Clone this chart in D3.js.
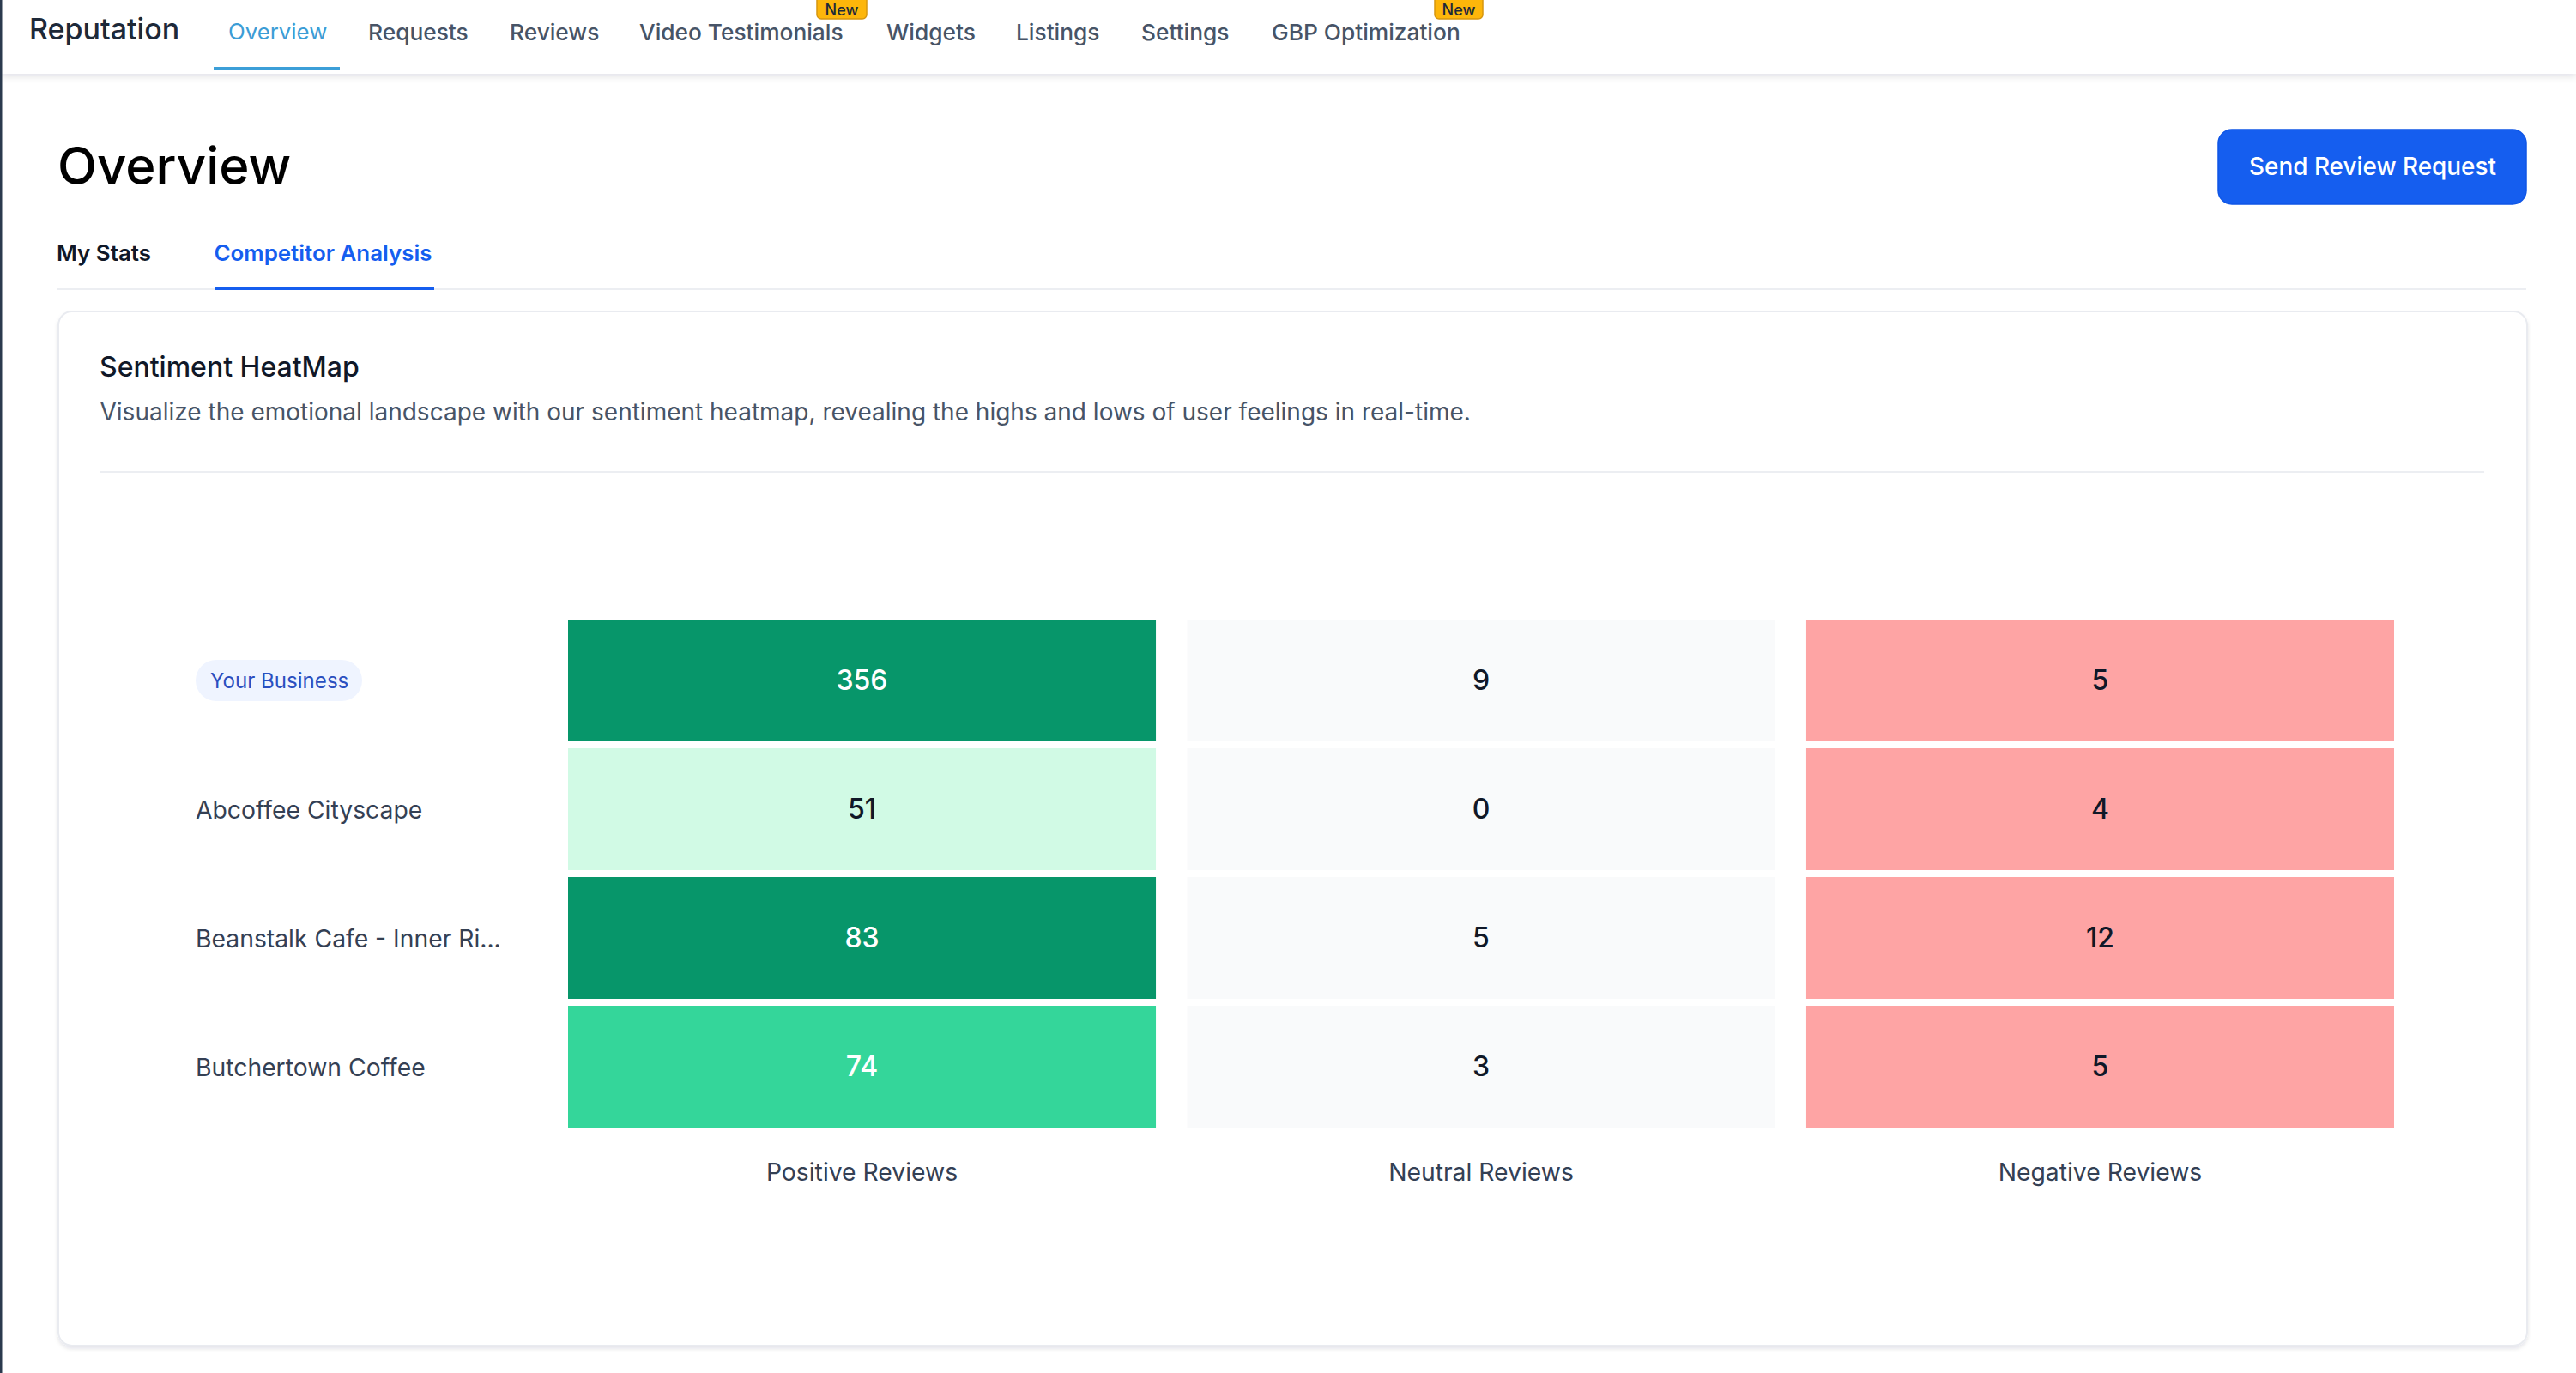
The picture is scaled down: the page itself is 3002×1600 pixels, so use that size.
<!DOCTYPE html>
<html>
<head>
<meta charset="utf-8">
<script src="https://cdn.jsdelivr.net/npm/d3@7/dist/d3.min.js"></script>
<style>
html,body{margin:0;padding:0;background:#fff;overflow:hidden}
svg{display:block;font-family:Inter,"Noto Sans",sans-serif}
</style>
</head>
<body>
<svg id="c" width="3002" height="1600"></svg>
<script>
const navLabels = ["Overview","Requests","Reviews","Video Testimonials","Widgets","Listings","Settings","GBP Optimization"];
const tabLabels = ["My Stats","Competitor Analysis"];
const businesses = ["Your Business","Abcoffee Cityscape","Beanstalk Cafe - Inner Ri...","Butchertown Coffee"];
const reviewTypes = ["Positive Reviews","Neutral Reviews","Negative Reviews"];
const positiveReviews = [356,51,83,74];
const neutralReviews = [9,0,5,3];
const negativeReviews = [5,4,12,5];

const seriesByType = {"Positive Reviews":positiveReviews,"Neutral Reviews":neutralReviews,"Negative Reviews":negativeReviews};
const cells = reviewTypes.flatMap(t => businesses.map((b,i)=>({type:t,business:b,value:seriesByType[t][i]})));

const svg = d3.select("#c");
const defs = svg.append("defs");
const sh = defs.append("filter").attr("id","hs").attr("x","-2%").attr("y","-50%").attr("width","104%").attr("height","200%");
sh.append("feDropShadow").attr("dx",0).attr("dy",3).attr("stdDeviation",4).attr("flood-color","#101828").attr("flood-opacity",0.12);
const cs = defs.append("filter").attr("id","cs").attr("x","-2%").attr("y","-2%").attr("width","104%").attr("height","104%");
cs.append("feDropShadow").attr("dx",0).attr("dy",3).attr("stdDeviation",2).attr("flood-color","#101828").attr("flood-opacity",0.10);

function txt(s,x,y,size,weight,fill,anchor){
  return svg.append("text").text(s).attr("x",x).attr("y",y).attr("font-size",size)
    .attr("font-weight",weight).attr("fill",fill).attr("text-anchor",anchor||"start");
}

// page chrome
svg.append("rect").attr("width",3002).attr("height",1600).attr("fill","#ffffff");
svg.append("rect").attr("x",2).attr("y",0).attr("width",3000).attr("height",86).attr("fill","#fff").attr("filter","url(#hs)");
svg.append("rect").attr("x",0).attr("y",0).attr("width",2.5).attr("height",1600).attr("fill","#2b3a4e");

txt("Reputation",34,46,34,500,"#1d2939");
const navX = [266,429,594,745,1033,1184,1330,1482];
navLabels.forEach((n,i)=>txt(n,navX[i],i==0?45.5:46.5,i==0?25.8:26.3,i==0?400:500,i==0?"#3c9dd6":"#475467"));
svg.append("rect").attr("x",249).attr("y",78).attr("width",147).attr("height",4).attr("fill","#3c9fd8");
[952,1672].forEach(bx=>{
  svg.append("rect").attr("x",bx).attr("y",-10).attr("width",bx==952?58:56).attr("height",32).attr("rx",5).attr("fill","#fdb60a").attr("stroke","#d6960f").attr("stroke-width",1.5);
  txt("New",bx+(bx==952?29:28),17.5,18,500,"#1d2939","middle");
});

txt("Overview",67,215,60,450,"#000");
svg.append("rect").attr("x",2585).attr("y",151).attr("width",359).attr("height",87).attr("rx",16).attr("fill","#155eef").attr("stroke","#0f56e6").attr("stroke-width",1.5);
txt("Send Review Request",2765,203.5,27.9,500,"#fff","middle");

txt(tabLabels[0],66,304,25.9,600,"#101828");
txt(tabLabels[1],249.5,304,25.9,600,"#155eef");
svg.append("rect").attr("x",66).attr("y",336).attr("width",2878).attr("height",2).attr("fill","#eceef2");
svg.append("rect").attr("x",250).attr("y",334).attr("width",256).attr("height",4).attr("fill","#155eef");

// card
svg.append("rect").attr("x",68).attr("y",363).attr("width",2877).attr("height",1205).attr("rx",16).attr("fill","#fff").attr("stroke","#e9ebf0").attr("stroke-width",2).attr("filter","url(#cs)");
txt("Sentiment HeatMap",116,439,32,450,"#101828");
txt("Visualize the emotional landscape with our sentiment heatmap, revealing the highs and lows of user feelings in real-time.",116.5,490,28,400,"#475467");
svg.append("rect").attr("x",116).attr("y",549).attr("width",2779).attr("height",2).attr("fill","#eceef2");

// heatmap
const x = d3.scaleBand().domain(reviewTypes).range([662,2790]).paddingInner(0.0505);
const y = d3.scaleBand().domain(businesses).range([722,1314]).paddingInner(8/150);
const greens = d3.scaleThreshold().domain([60,80]).range(["#d1fae5","#34d69a","#07966a"]);
const textOnGreen = d3.scaleThreshold().domain([60]).range(["#101828","#ffffff"]);
const fillOf = d => d.type===reviewTypes[0] ? greens(d.value) : d.type===reviewTypes[1] ? "#f9fafb" : "#fea4a4";
const inkOf = d => d.type===reviewTypes[0] ? textOnGreen(d.value) : "#101828";

svg.append("g").selectAll("rect").data(cells).join("rect")
  .attr("x",d=>x(d.type)).attr("y",d=>y(d.business))
  .attr("width",x.bandwidth()).attr("height",y.bandwidth()).attr("fill",fillOf);
svg.append("g").selectAll("text").data(cells).join("text")
  .attr("x",d=>x(d.type)+x.bandwidth()/2).attr("y",d=>y(d.business)+y.bandwidth()/2).attr("dy","0.34em")
  .attr("text-anchor","middle").attr("font-size",32).attr("font-weight",500).attr("fill",inkOf).text(d=>d.value);

// pill behind first axis label
svg.append("rect").attr("x",228).attr("y",y(businesses[0])+y.bandwidth()/2-24).attr("width",194).attr("height",48).attr("rx",24).attr("fill","#eff4ff");

const yAxis = svg.append("g").attr("transform","translate(228,0)").call(d3.axisLeft(y).tickSize(0));
yAxis.select(".domain").remove();
yAxis.selectAll("text").attr("x",0).attr("dy","0.4em").attr("text-anchor","start").attr("font-family","Inter")
  .attr("font-size",(d,i)=>i==0?24.1:28.3).attr("font-weight",400)
  .attr("fill",(d,i)=>i==0?"#2a4fc0":"#344054");
yAxis.selectAll(".tick").filter((d,i)=>i==0).select("text").attr("x",17).attr("dy","0.38em");

const xAxis = svg.append("g").attr("transform","translate(0,1314)").call(d3.axisBottom(x).tickSize(0));
xAxis.select(".domain").remove();
xAxis.selectAll("text").attr("y",62).attr("dy",0).attr("font-family","Inter").attr("font-size",28.3).attr("font-weight",400).attr("fill","#344054");
</script>
</body>
</html>
